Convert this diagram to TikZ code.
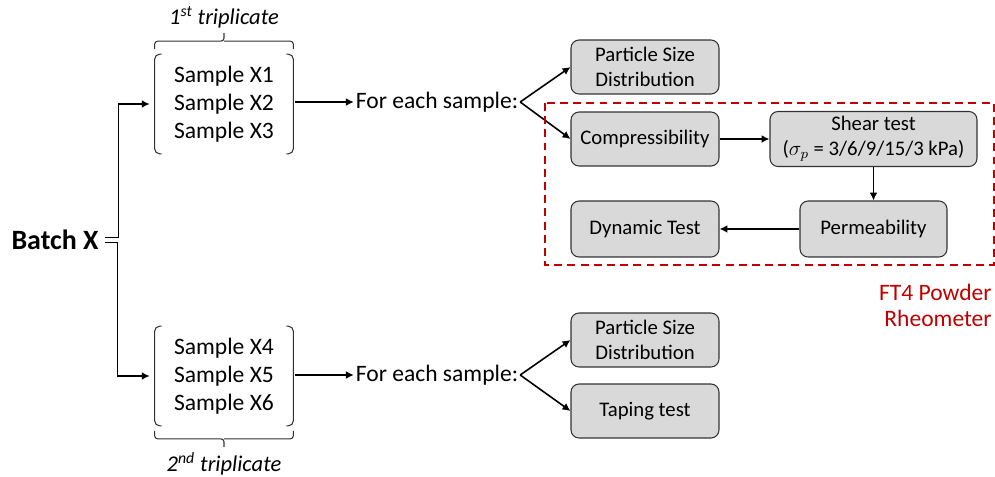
\documentclass[tikz,border=0pt]{standalone}
\usepackage{fontspec}
\setmainfont{Carlito}
\usepackage{xcolor}
\usepackage{tikz}
\usetikzlibrary{arrows.meta, positioning, calc}
\definecolor{boxgray}{RGB}{217,217,217}
\definecolor{edgegray}{RGB}{50,50,50}
\definecolor{ftred}{RGB}{192,0,0}

\begin{document}
\begin{tikzpicture}[
  x=0.02cm, y=-0.02cm,
  samplegrp/.style={align=center, inner sep=0pt, minimum width=2.76cm, minimum height=1.98cm,
    font=\fontsize{13.4}{15.9}\selectfont},
  sampletxt/.style={inner sep=1pt, font=\fontsize{13.4}{16}\selectfont},
  testbox/.style={draw=edgegray, line width=0.6pt, fill=boxgray, rounded corners=0.16cm,
    minimum width=2.96cm, minimum height=1.08cm, align=center, inner sep=1pt,
    font=\fontsize{11.8}{14.2}\selectfont},
  trip/.style={font=\itshape\fontsize{12.8}{15}\selectfont, inner sep=0pt},
  bracket/.style={line width=0.6pt, draw=edgegray, rounded corners=0.1cm},
  arr/.style={-{Latex[length=4.5pt,width=4.5pt]}, line width=0.9pt},
  ftbox/.style={draw=ftred, line width=1.1pt, dash pattern=on 4.5pt off 3pt}
]
  \useasboundingbox (0,0) rectangle (995,477);

  % batch and the two triplicates
  \node[font=\bfseries\fontsize{15.9}{19}\selectfont, inner sep=1pt] (batch) at (55,240) {Batch X};
  \node[samplegrp] (grp1) at (224,104) {Sample X1\\Sample X2\\Sample X3};
  \node[samplegrp] (grp2) at (224,376) {Sample X4\\Sample X5\\Sample X6};

  \foreach \g in {grp1,grp2} {
    \draw[bracket] ($(\g.north west)+(7,0)$) -- (\g.north west) -- (\g.south west) -- ($(\g.south west)+(7,0)$);
    \draw[bracket] ($(\g.north east)+(-7,0)$) -- (\g.north east) -- (\g.south east) -- ($(\g.south east)+(-7,0)$);
  }

  % braces
  \draw[bracket, rounded corners=0.06cm] ($(grp1.north west)+(0,-5)$) -- ++(0,-8) -- ($(grp1.north)+(0,-13)$) -- ++(0,-8);
  \draw[bracket, rounded corners=0.06cm] ($(grp1.north east)+(0,-5)$) -- ++(0,-8) -- ($(grp1.north)+(0,-13)$);
  \draw[bracket, rounded corners=0.06cm] ($(grp2.south west)+(0,5)$) -- ++(0,8) -- ($(grp2.south)+(0,13)$) -- ++(0,8);
  \draw[bracket, rounded corners=0.06cm] ($(grp2.south east)+(0,5)$) -- ++(0,8) -- ($(grp2.south)+(0,13)$);
  \node[trip] (trip1) at ($(grp1.north)+(0,-37)$) {1\textsuperscript{st} triplicate};
  \node[trip] (trip2) at ($(grp2.south)+(0,38)$) {2\textsuperscript{nd} triplicate};

  \draw[arr] ($(batch.east)+(4,-2.5)$) -- ++(14,0) |- ($(grp1.west)+(-5,0)$);
  \draw[arr] ($(batch.east)+(4,2.5)$) -- ++(13,0) |- ($(grp2.west)+(-5,0)$);

  % for each sample
  \node[sampletxt] (each1) at (437,102) {For each sample:};
  \node[sampletxt] (each2) at (437,375) {For each sample:};
  \draw[arr] ($(grp1.east)+(2,-2)$) -- (each1.west);
  \draw[arr] ($(grp2.east)+(2,-1)$) -- (each2.west);

  % tests
  \node[testbox] (psd1) at (645,67) {Particle Size\\Distribution};
  \node[testbox] (comp) at (645,139) {Compressibility};
  \node[testbox, minimum width=4.14cm, minimum height=1.1cm] (shear) at (873.5,139)
    {Shear test\\($\sigma_p$ = 3/6/9/15/3 kPa)};
  \node[testbox, minimum width=2.94cm, minimum height=1.12cm] (perm) at (873.5,229) {Permeability};
  \node[testbox, minimum height=1.12cm] (dyn) at (645,229) {Dynamic Test};
  \node[testbox] (psd2) at (645,340) {Particle Size\\Distribution};
  \node[testbox] (tap) at (645,411) {Taping test};

  \draw[arr] (each1.east) -- (psd1.west);
  \draw[arr] (each1.east) -- (comp.west);
  \draw[arr] (each2.east) -- (psd2.west);
  \draw[arr] (each2.east) -- (tap.west);
  \draw[arr] (comp) -- (shear);
  \draw[arr] (shear) -- (perm);
  \draw[arr] (perm) -- (dyn);

  % FT4 rheometer group
  \draw[ftbox] (545,103) rectangle (994,265);
  \node[text=ftred, align=right, anchor=east, inner sep=0pt,
    font=\fontsize{13.4}{14.8}\selectfont] (ft4) at (992,305) {FT4 Powder\\Rheometer};
\end{tikzpicture}
\end{document}
